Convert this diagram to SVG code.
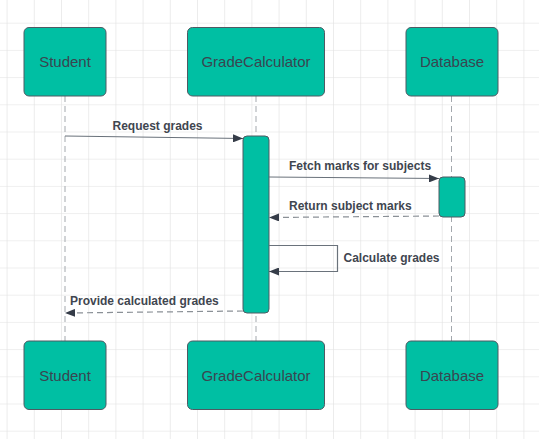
<svg xmlns="http://www.w3.org/2000/svg" width="539" height="439" viewBox="0 0 539 439">
<defs>
<pattern id="grid" x="6.6" y="22.7" width="27.2" height="27.2" patternUnits="userSpaceOnUse">
<path d="M0 0H27.2M0 0V27.2" fill="none" stroke="#e0e0e0" stroke-width="1.2"/>
</pattern>
<marker id="arr" viewBox="0 0 10 8" refX="10" refY="4" markerWidth="10" markerHeight="8" markerUnits="userSpaceOnUse" orient="auto">
<path d="M0 0L10 4L0 8Z" fill="#353c48"/>
</marker>
<style>
.node rect{fill:#00bfa3;stroke:#4f5a63;stroke-width:1}
.node text{font-family:"Liberation Sans",Arial,sans-serif;font-size:15px;fill:#3a4550;text-anchor:middle;dominant-baseline:central}
.life{stroke:#a3a8ad;stroke-width:1;stroke-dasharray:6 4;fill:none}
.act{fill:#00bfa3;stroke:#4f5a63;stroke-width:1}
.msg{stroke:#6a727b;stroke-width:1.2;fill:none}
.ret{stroke:#8a9096;stroke-width:1.2;fill:none;stroke-dasharray:6 4}
.lbl{font-family:"Liberation Sans",Arial,sans-serif;font-size:12px;font-weight:bold;fill:#3f4650}
</style>
</defs>
<rect width="539" height="439" fill="#ffffff"/>
<rect width="539" height="439" fill="url(#grid)"/>
<g id="lifelines">
<line class="life" x1="65" y1="96" x2="65" y2="341"/>
<line class="life" x1="256" y1="96" x2="256" y2="341"/>
<line class="life" x1="451.5" y1="96" x2="451.5" y2="341"/>
</g>
<g id="activations">
<rect class="act" x="243" y="136" width="26" height="177" rx="4"/>
<rect class="act" x="439" y="177" width="26" height="40" rx="4"/>
</g>
<g id="connectors">
<line class="msg" x1="65" y1="136" x2="243" y2="138.5" marker-end="url(#arr)"/>
<text class="lbl" x="112.5" y="130">Request grades</text>
<line class="msg" x1="269" y1="177" x2="439" y2="178.5" marker-end="url(#arr)"/>
<text class="lbl" x="289" y="170">Fetch marks for subjects</text>
<line class="ret" x1="439" y1="216" x2="269" y2="217.5" marker-end="url(#arr)"/>
<text class="lbl" x="289" y="209.5">Return subject marks</text>
<polyline class="msg" points="269,245.5 337.5,245.5 337.5,271.5 269,271.5" marker-end="url(#arr)"/>
<text class="lbl" x="343.5" y="261.5">Calculate grades</text>
<line class="ret" x1="243" y1="311" x2="65" y2="313" marker-end="url(#arr)"/>
<text class="lbl" x="70" y="304.5">Provide calculated grades</text>
</g>
<g id="student-top" class="node"><rect x="24" y="27.5" width="82" height="68.5" rx="5"/><text x="65" y="61">Student</text></g>
<g id="gradecalculator-top" class="node"><rect x="187.5" y="27.5" width="137" height="68.5" rx="5"/><text x="256" y="61">GradeCalculator</text></g>
<g id="database-top" class="node"><rect x="406" y="27.5" width="92" height="68.5" rx="5"/><text x="452" y="61">Database</text></g>
<g id="student-bottom" class="node"><rect x="24" y="341" width="82" height="68.5" rx="5"/><text x="65" y="375">Student</text></g>
<g id="gradecalculator-bottom" class="node"><rect x="187.5" y="341" width="137" height="68.5" rx="5"/><text x="256" y="375">GradeCalculator</text></g>
<g id="database-bottom" class="node"><rect x="406" y="341" width="92" height="68.5" rx="5"/><text x="452" y="375">Database</text></g>
</svg>
